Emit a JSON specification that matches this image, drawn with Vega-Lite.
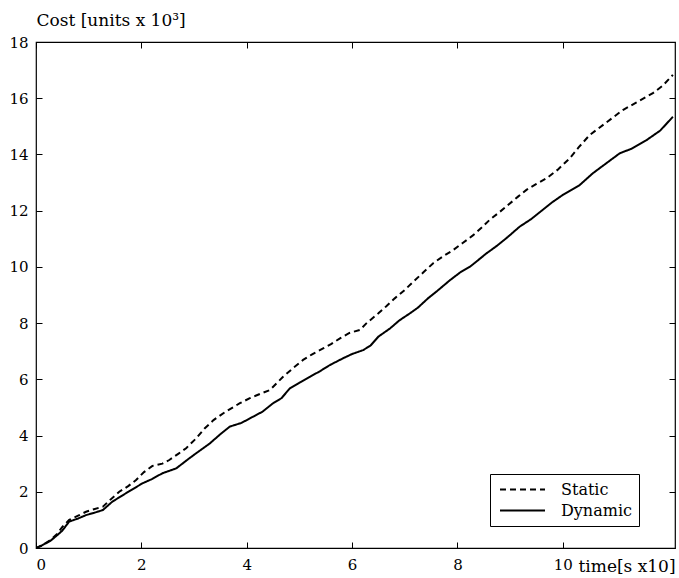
{
  "$schema": "https://vega.github.io/schema/vega-lite/v6.json",
  "width": 639,
  "height": 506,
  "autosize": {"type": "none"},
  "padding": {"left": 36, "top": 42, "right": 4, "bottom": 30},
  "background": "white",
  "config": {
    "view": {"stroke": "black", "strokeWidth": 1.2},
    "font": "DejaVu Serif",
    "axis": {"labelFont": "DejaVu Serif", "titleFont": "DejaVu Serif", "labelFontSize": 15, "titleFontSize": 17, "labelColor": "black", "titleColor": "black", "titleFontWeight": "normal", "grid": false, "domain": false, "tickColor": "black", "tickSize": -6, "tickWidth": 1},
    "legend": {"labelFont": "DejaVu Serif"}
  },
  "data": {"values": [
      {"series": "Dynamic", "t": 0, "cost": 0}, {"series": "Dynamic", "t": 0.1, "cost": 0.08}, {"series": "Dynamic", "t": 0.27, "cost": 0.25}, {"series": "Dynamic", "t": 0.4, "cost": 0.45},
      {"series": "Dynamic", "t": 0.5, "cost": 0.62}, {"series": "Dynamic", "t": 0.63, "cost": 0.94}, {"series": "Dynamic", "t": 0.8, "cost": 1.05}, {"series": "Dynamic", "t": 0.95, "cost": 1.17},
      {"series": "Dynamic", "t": 1.1, "cost": 1.25}, {"series": "Dynamic", "t": 1.27, "cost": 1.35}, {"series": "Dynamic", "t": 1.45, "cost": 1.65}, {"series": "Dynamic", "t": 1.71, "cost": 1.95},
      {"series": "Dynamic", "t": 2.02, "cost": 2.3}, {"series": "Dynamic", "t": 2.2, "cost": 2.45}, {"series": "Dynamic", "t": 2.4, "cost": 2.66}, {"series": "Dynamic", "t": 2.66, "cost": 2.83},
      {"series": "Dynamic", "t": 2.91, "cost": 3.19}, {"series": "Dynamic", "t": 3.04, "cost": 3.37}, {"series": "Dynamic", "t": 3.3, "cost": 3.72}, {"series": "Dynamic", "t": 3.5, "cost": 4.05},
      {"series": "Dynamic", "t": 3.68, "cost": 4.32}, {"series": "Dynamic", "t": 3.9, "cost": 4.45}, {"series": "Dynamic", "t": 4.12, "cost": 4.67}, {"series": "Dynamic", "t": 4.3, "cost": 4.85},
      {"series": "Dynamic", "t": 4.5, "cost": 5.15}, {"series": "Dynamic", "t": 4.66, "cost": 5.33}, {"series": "Dynamic", "t": 4.82, "cost": 5.68}, {"series": "Dynamic", "t": 5.0, "cost": 5.88},
      {"series": "Dynamic", "t": 5.2, "cost": 6.09}, {"series": "Dynamic", "t": 5.4, "cost": 6.3}, {"series": "Dynamic", "t": 5.58, "cost": 6.51}, {"series": "Dynamic", "t": 5.83, "cost": 6.75},
      {"series": "Dynamic", "t": 6.0, "cost": 6.9}, {"series": "Dynamic", "t": 6.21, "cost": 7.04}, {"series": "Dynamic", "t": 6.35, "cost": 7.2}, {"series": "Dynamic", "t": 6.5, "cost": 7.52},
      {"series": "Dynamic", "t": 6.72, "cost": 7.81}, {"series": "Dynamic", "t": 6.9, "cost": 8.1}, {"series": "Dynamic", "t": 7.1, "cost": 8.35}, {"series": "Dynamic", "t": 7.25, "cost": 8.55},
      {"series": "Dynamic", "t": 7.44, "cost": 8.88}, {"series": "Dynamic", "t": 7.62, "cost": 9.15}, {"series": "Dynamic", "t": 7.86, "cost": 9.53}, {"series": "Dynamic", "t": 8.05, "cost": 9.8},
      {"series": "Dynamic", "t": 8.24, "cost": 10.01}, {"series": "Dynamic", "t": 8.4, "cost": 10.25}, {"series": "Dynamic", "t": 8.55, "cost": 10.48}, {"series": "Dynamic", "t": 8.75, "cost": 10.75},
      {"series": "Dynamic", "t": 8.96, "cost": 11.07}, {"series": "Dynamic", "t": 9.18, "cost": 11.43}, {"series": "Dynamic", "t": 9.4, "cost": 11.7}, {"series": "Dynamic", "t": 9.6, "cost": 12.0},
      {"series": "Dynamic", "t": 9.8, "cost": 12.3}, {"series": "Dynamic", "t": 10.0, "cost": 12.56}, {"series": "Dynamic", "t": 10.32, "cost": 12.91}, {"series": "Dynamic", "t": 10.57, "cost": 13.33},
      {"series": "Dynamic", "t": 10.8, "cost": 13.65}, {"series": "Dynamic", "t": 11.08, "cost": 14.04}, {"series": "Dynamic", "t": 11.3, "cost": 14.2}, {"series": "Dynamic", "t": 11.59, "cost": 14.51},
      {"series": "Dynamic", "t": 11.85, "cost": 14.85}, {"series": "Dynamic", "t": 12.09, "cost": 15.34},
      {"series": "Static", "t": 0, "cost": 0}, {"series": "Static", "t": 0.1, "cost": 0.08}, {"series": "Static", "t": 0.27, "cost": 0.28}, {"series": "Static", "t": 0.4, "cost": 0.5},
      {"series": "Static", "t": 0.5, "cost": 0.75}, {"series": "Static", "t": 0.63, "cost": 1.0}, {"series": "Static", "t": 0.8, "cost": 1.15}, {"series": "Static", "t": 0.95, "cost": 1.29},
      {"series": "Static", "t": 1.1, "cost": 1.38}, {"series": "Static", "t": 1.27, "cost": 1.47}, {"series": "Static", "t": 1.4, "cost": 1.7}, {"series": "Static", "t": 1.58, "cost": 2.0},
      {"series": "Static", "t": 1.75, "cost": 2.2}, {"series": "Static", "t": 1.9, "cost": 2.42}, {"series": "Static", "t": 2.05, "cost": 2.7}, {"series": "Static", "t": 2.21, "cost": 2.92},
      {"series": "Static", "t": 2.4, "cost": 3.0}, {"series": "Static", "t": 2.53, "cost": 3.13}, {"series": "Static", "t": 2.7, "cost": 3.35}, {"series": "Static", "t": 2.85, "cost": 3.55},
      {"series": "Static", "t": 3.04, "cost": 3.9}, {"series": "Static", "t": 3.2, "cost": 4.25}, {"series": "Static", "t": 3.37, "cost": 4.55}, {"series": "Static", "t": 3.6, "cost": 4.85},
      {"series": "Static", "t": 3.87, "cost": 5.15}, {"series": "Static", "t": 4.06, "cost": 5.33}, {"series": "Static", "t": 4.25, "cost": 5.48}, {"series": "Static", "t": 4.44, "cost": 5.62},
      {"series": "Static", "t": 4.69, "cost": 6.09}, {"series": "Static", "t": 4.88, "cost": 6.4}, {"series": "Static", "t": 5.07, "cost": 6.69}, {"series": "Static", "t": 5.25, "cost": 6.9},
      {"series": "Static", "t": 5.45, "cost": 7.1}, {"series": "Static", "t": 5.6, "cost": 7.25}, {"series": "Static", "t": 5.77, "cost": 7.46}, {"series": "Static", "t": 5.95, "cost": 7.65},
      {"series": "Static", "t": 6.15, "cost": 7.76}, {"series": "Static", "t": 6.27, "cost": 7.99}, {"series": "Static", "t": 6.5, "cost": 8.35}, {"series": "Static", "t": 6.65, "cost": 8.6},
      {"series": "Static", "t": 6.81, "cost": 8.88}, {"series": "Static", "t": 7.0, "cost": 9.18}, {"series": "Static", "t": 7.16, "cost": 9.47}, {"series": "Static", "t": 7.35, "cost": 9.8},
      {"series": "Static", "t": 7.54, "cost": 10.13}, {"series": "Static", "t": 7.73, "cost": 10.38}, {"series": "Static", "t": 7.92, "cost": 10.6}, {"series": "Static", "t": 8.1, "cost": 10.85},
      {"series": "Static", "t": 8.3, "cost": 11.13}, {"series": "Static", "t": 8.45, "cost": 11.38}, {"series": "Static", "t": 8.61, "cost": 11.67}, {"series": "Static", "t": 8.8, "cost": 11.95},
      {"series": "Static", "t": 8.96, "cost": 12.2}, {"series": "Static", "t": 9.15, "cost": 12.5}, {"series": "Static", "t": 9.31, "cost": 12.74}, {"series": "Static", "t": 9.5, "cost": 12.95},
      {"series": "Static", "t": 9.69, "cost": 13.15}, {"series": "Static", "t": 9.9, "cost": 13.45}, {"series": "Static", "t": 10.13, "cost": 13.86}, {"series": "Static", "t": 10.3, "cost": 14.25},
      {"series": "Static", "t": 10.51, "cost": 14.69}, {"series": "Static", "t": 10.8, "cost": 15.1}, {"series": "Static", "t": 11.14, "cost": 15.58}, {"series": "Static", "t": 11.4, "cost": 15.85},
      {"series": "Static", "t": 11.71, "cost": 16.18}, {"series": "Static", "t": 11.9, "cost": 16.45}, {"series": "Static", "t": 12.09, "cost": 16.83}
  ]},
  "layer": [
    {
      "mark": {"type": "line", "color": "black", "strokeWidth": 2, "clip": true},
      "encoding": {
        "x": {"field": "t", "type": "quantitative", "scale": {"domain": [0, 12.13], "nice": false, "zero": false},
              "axis": {"orient": "bottom", "values": [0, 2, 4, 6, 8, 10], "labelPadding": 15, "title": "time[s x10]", "titleAnchor": "start", "titleAlign": "left", "titleX": 542, "titleY": 23, "titleBaseline": "alphabetic"}},
        "y": {"field": "cost", "type": "quantitative", "scale": {"domain": [0, 18], "nice": false},
              "axis": {"orient": "left", "values": [0, 2, 4, 6, 8, 10, 12, 14, 16, 18], "labelPadding": 14, "title": "Cost [units x 10³]", "titleAngle": 0, "titleAlign": "left", "titleAnchor": "start", "titleX": 0, "titleY": -17, "titleBaseline": "alphabetic"}},
        "strokeDash": {"field": "series", "type": "nominal",
          "scale": {"domain": ["Static", "Dynamic"], "range": [[6, 4], [1, 0]]},
          "legend": {"title": null, "orient": "none", "legendX": 454, "legendY": 432, "symbolType": "M-3,0H3", "symbolSize": 225, "symbolOffset": 17, "symbolStrokeWidth": 2, "symbolStrokeColor": "black", "labelFontSize": 16, "labelFont": "DejaVu Serif", "labelColor": "black", "strokeColor": "black", "fillColor": "white", "padding": 7, "rowPadding": 4, "labelOffset": 30}}
      }
    },
    {
      "mark": {"type": "point", "opacity": 0},
      "encoding": {
        "x": {"field": "t", "type": "quantitative", "axis": {"orient": "top", "values": [0, 2, 4, 6, 8, 10], "labels": false, "title": null}},
        "y": {"field": "cost", "type": "quantitative", "axis": {"orient": "right", "values": [0, 2, 4, 6, 8, 10, 12, 14, 16, 18], "labels": false, "title": null}}
      }
    }
  ]
}
